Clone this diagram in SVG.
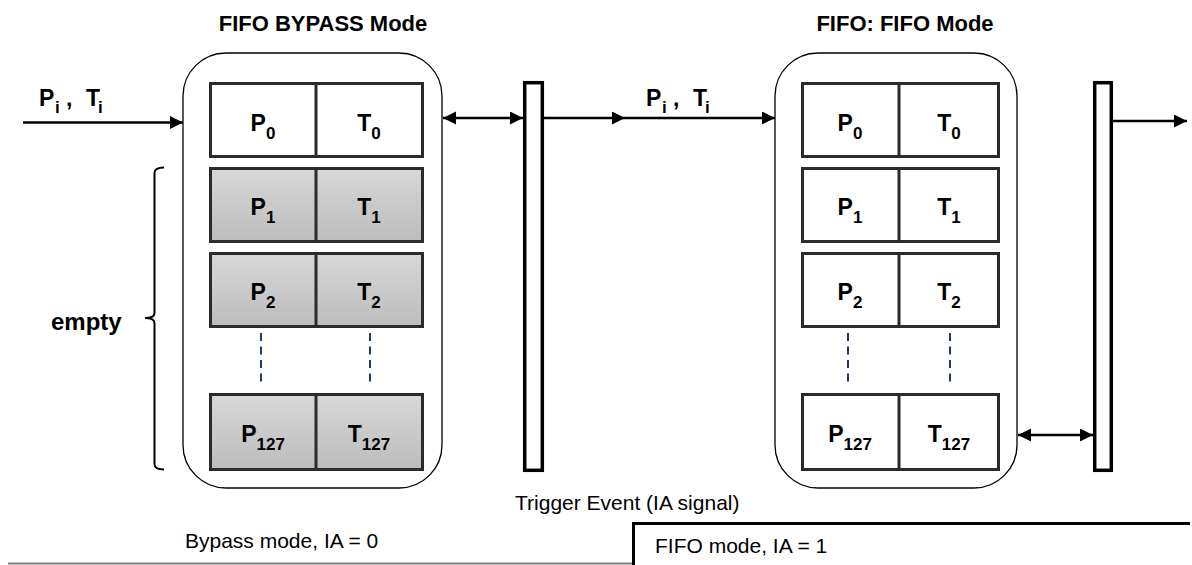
<svg xmlns="http://www.w3.org/2000/svg" width="1192" height="565" viewBox="0 0 1192 565">
  <style>
    .title { font-family: "Liberation Sans", Arial, sans-serif; font-weight: bold; font-size: 22px; fill: #000; }
    .lbl { font-family: "Liberation Sans", Arial, sans-serif; font-weight: bold; font-size: 23px; fill: #000; }
    .cell { font-family: "Liberation Sans", Arial, sans-serif; font-weight: bold; font-size: 23px; fill: #000; text-anchor: middle; }
    .sub { font-size: 17px; }
    .note { font-family: "Liberation Sans", Arial, sans-serif; font-size: 21px; fill: #000; }
    .box { fill: #fff; stroke: #000; stroke-width: 1.3; }
    .c { stroke: #2b2b2b; stroke-width: 3; }
    .white { fill: #fff; }
    .gray { fill: url(#g); }
    .bar { fill: #fff; stroke: #000; stroke-width: 3.5; }
    .dash { stroke: #1f3864; stroke-width: 2; stroke-dasharray: 8 5.5; fill: none; }
    .arr { stroke: #000; stroke-width: 2.5; fill: none; }
  </style>
  <defs>
    <linearGradient id="g" x1="0" y1="0" x2="0" y2="1">
      <stop offset="0" stop-color="#d8d8d8"/>
      <stop offset="1" stop-color="#bcbcbc"/>
    </linearGradient>
    <marker id="ah" markerUnits="userSpaceOnUse" markerWidth="14" markerHeight="14" refX="13" refY="6.5" orient="auto-start-reverse">
      <path d="M0,0 L13,6.5 L0,13 z" fill="#000"/>
    </marker>
  </defs>

  <text class="title" x="323" y="31" text-anchor="middle">FIFO BYPASS Mode</text>
  <text class="title" x="905" y="31" text-anchor="middle">FIFO: FIFO Mode</text>

  <g id="bypass-fifo">
    <rect class="box" x="183" y="53" width="259" height="435" rx="43" ry="43"/>
    <g class="c">
      <rect class="white" x="210.5" y="83.5" width="212" height="73"/>
      <line x1="316" y1="83.5" x2="316" y2="156.5"/>
      <rect class="gray" x="210.5" y="168.5" width="212" height="73"/>
      <line x1="316" y1="168.5" x2="316" y2="241.5"/>
      <rect class="gray" x="210.5" y="253.5" width="212" height="73"/>
      <line x1="316" y1="253.5" x2="316" y2="326.5"/>
      <rect class="gray" x="210.5" y="394.5" width="212" height="75"/>
      <line x1="316" y1="394.5" x2="316" y2="469.5"/>
    </g>
    <line class="dash" x1="261" y1="333" x2="261" y2="387"/>
    <line class="dash" x1="370" y1="333" x2="370" y2="387"/>
    <text class="cell" x="263" y="131">P<tspan class="sub" dy="8">0</tspan></text>
    <text class="cell" x="369" y="131">T<tspan class="sub" dy="8">0</tspan></text>
    <text class="cell" x="263" y="215">P<tspan class="sub" dy="8">1</tspan></text>
    <text class="cell" x="369" y="215">T<tspan class="sub" dy="8">1</tspan></text>
    <text class="cell" x="263" y="300">P<tspan class="sub" dy="8">2</tspan></text>
    <text class="cell" x="369" y="300">T<tspan class="sub" dy="8">2</tspan></text>
    <text class="cell" x="263" y="442">P<tspan class="sub" dy="8">127</tspan></text>
    <text class="cell" x="369" y="442">T<tspan class="sub" dy="8">127</tspan></text>
  </g>

  <g id="bracket-empty">
    <path d="M164,167.5 Q154.5,167.5 154.5,173 L154.5,313 Q154.5,318 145,318 Q154.5,318 154.5,323 L154.5,464 Q154.5,469.5 164,469.5" fill="none" stroke="#000" stroke-width="2"/>
    <text class="lbl" x="51" y="330" style="font-size:24px">empty</text>
  </g>

  <g id="bar-left">
    <rect class="bar" x="524.7" y="82.7" width="17.6" height="387.6"/>
  </g>

  <g id="fifo-mode">
    <rect class="box" x="775" y="53" width="242" height="435" rx="43" ry="43"/>
    <g class="c">
      <rect class="white" x="802.5" y="83.5" width="196" height="73"/>
      <line x1="899" y1="83.5" x2="899" y2="156.5"/>
      <rect class="white" x="802.5" y="168.5" width="196" height="73"/>
      <line x1="899" y1="168.5" x2="899" y2="241.5"/>
      <rect class="white" x="802.5" y="253.5" width="196" height="73"/>
      <line x1="899" y1="253.5" x2="899" y2="326.5"/>
      <rect class="white" x="802.5" y="394.5" width="196" height="75"/>
      <line x1="899" y1="394.5" x2="899" y2="469.5"/>
    </g>
    <line class="dash" x1="848" y1="333" x2="848" y2="387"/>
    <line class="dash" x1="950" y1="333" x2="950" y2="387"/>
    <text class="cell" x="850" y="131">P<tspan class="sub" dy="8">0</tspan></text>
    <text class="cell" x="949" y="131">T<tspan class="sub" dy="8">0</tspan></text>
    <text class="cell" x="850" y="215">P<tspan class="sub" dy="8">1</tspan></text>
    <text class="cell" x="949" y="215">T<tspan class="sub" dy="8">1</tspan></text>
    <text class="cell" x="850" y="300">P<tspan class="sub" dy="8">2</tspan></text>
    <text class="cell" x="949" y="300">T<tspan class="sub" dy="8">2</tspan></text>
    <text class="cell" x="850" y="442">P<tspan class="sub" dy="8">127</tspan></text>
    <text class="cell" x="949" y="442">T<tspan class="sub" dy="8">127</tspan></text>
  </g>

  <g id="bar-right">
    <rect class="bar" x="1094.7" y="82.7" width="16.6" height="387.6"/>
  </g>

  <g id="connectors">
    <line class="arr" x1="23" y1="122.5" x2="183" y2="122.5" marker-end="url(#ah)"/>
    <line class="arr" x1="443" y1="118" x2="523" y2="118" marker-start="url(#ah)" marker-end="url(#ah)"/>
    <line class="arr" x1="544" y1="118" x2="625" y2="118" marker-end="url(#ah)"/>
    <line class="arr" x1="625" y1="118" x2="775" y2="118" marker-end="url(#ah)"/>
    <line class="arr" x1="1018" y1="435" x2="1093" y2="435" marker-start="url(#ah)" marker-end="url(#ah)"/>
    <line class="arr" x1="1113" y1="121" x2="1187" y2="121" marker-end="url(#ah)"/>
  </g>

  <g id="input-labels">
    <text class="lbl" y="106"><tspan x="39">P</tspan><tspan class="sub" x="55" dy="7">i</tspan><tspan x="66" dy="-7">,</tspan><tspan x="86">T</tspan><tspan class="sub" x="98" dy="7">i</tspan></text>
    <text class="lbl" y="106"><tspan x="646">P</tspan><tspan class="sub" x="662" dy="7">i</tspan><tspan x="673" dy="-7">,</tspan><tspan x="693">T</tspan><tspan class="sub" x="705" dy="7">i</tspan></text>
  </g>

  <g id="timeline">
    <text class="note" x="515" y="510">Trigger Event (IA signal)</text>
    <line x1="8" y1="563.5" x2="633" y2="563.5" stroke="#7f7f7f" stroke-width="2"/>
    <path d="M633.5,565 L633.5,523.5 L1190,523.5" fill="none" stroke="#000" stroke-width="3"/>
    <text class="note" x="185" y="548">Bypass mode, IA = 0</text>
    <text class="note" x="655" y="553">FIFO mode, IA = 1</text>
  </g>
</svg>
